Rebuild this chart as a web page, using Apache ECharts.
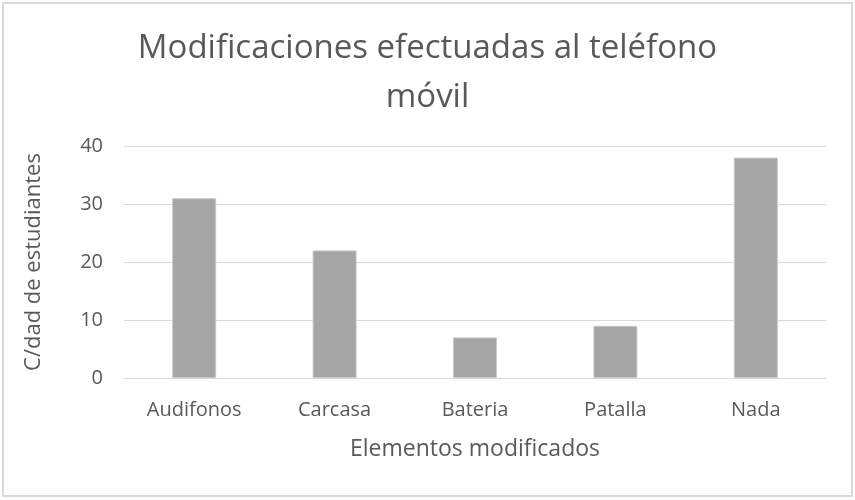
<!DOCTYPE html>
<html>
<head>
<meta charset="utf-8">
<script src="https://cdn.jsdelivr.net/npm/echarts@6/dist/echarts.min.js"></script>
<style>
html,body{margin:0;padding:0;background:#fff;}
#c{width:855px;height:500px;}
</style>
</head>
<body>
<div id="c"></div>
<script>
var categories = ['Audifonos', 'Carcasa', 'Bateria', 'Patalla', 'Nada'];
var values = [31, 22, 7, 9, 38];
var yTicks = [0, 10, 20, 30, 40];
var titleText = 'Modificaciones efectuadas al teléfono\nmóvil';
var xName = 'Elementos modificados';
var yName = 'C/dad de estudiantes';

var FONT = '"Open Sans", "Noto Sans", sans-serif';
var chart = echarts.init(document.getElementById('c'), null, {renderer: 'canvas'});
chart.setOption({
  backgroundColor: '#fff',
  animation: false,
  graphic: [{
    type: 'rect',
    shape: {x: 3, y: 3, width: 849, height: 493},
    style: {fill: 'none', stroke: '#d9d9d9', lineWidth: 2},
    silent: true
  }],
  title: {
    text: titleText,
    left: 'center',
    top: 24,
    padding: [0, 0, 0, 28],
    textStyle: {fontFamily: FONT, fontSize: 33, fontWeight: 'normal', color: '#595959', lineHeight: 49}
  },
  grid: {left: 124, right: 29, top: 146, bottom: 122, containLabel: false},
  xAxis: {
    type: 'category',
    data: categories,
    name: xName,
    nameLocation: 'middle',
    nameGap: 60,
    nameTextStyle: {fontFamily: FONT, fontSize: 23, color: '#595959'},
    axisLine: {show: true, lineStyle: {color: '#d9d9d9', width: 1}},
    axisTick: {show: false},
    axisLabel: {fontFamily: FONT, fontSize: 20, color: '#595959', margin: 22}
  },
  yAxis: {
    type: 'value',
    min: yTicks[0],
    max: yTicks[yTicks.length - 1],
    interval: 10,
    name: yName,
    nameLocation: 'middle',
    nameGap: 79,
    nameTextStyle: {fontFamily: FONT, fontSize: 22, color: '#595959'},
    axisLine: {show: false},
    axisTick: {show: false},
    axisLabel: {fontFamily: FONT, fontSize: 20, color: '#595959', margin: 21},
    splitLine: {lineStyle: {color: '#d9d9d9', width: 1}}
  },
  series: [{
    type: 'bar',
    data: values,
    barWidth: 44,
    itemStyle: {color: '#a5a5a5', borderColor: '#c8c8c8', borderWidth: 1}
  }]
});
</script>
</body>
</html>
